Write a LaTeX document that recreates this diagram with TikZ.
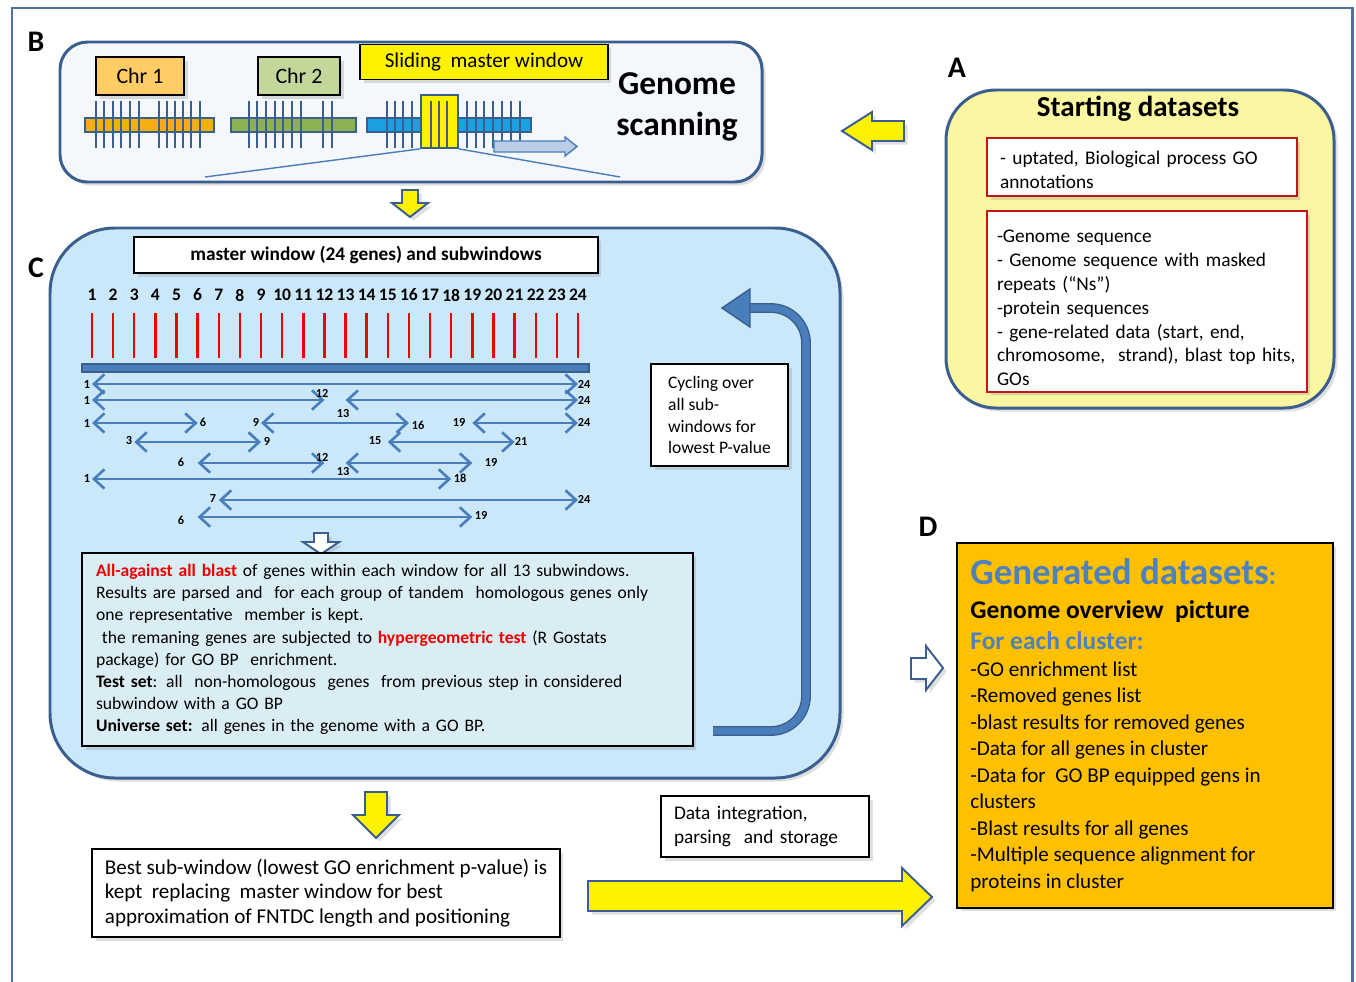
\documentclass[tikz,border=0pt]{standalone}
\usepackage{fontspec}
\setmainfont{Carlito}
\usetikzlibrary{arrows.meta,positioning,shadows}

\definecolor{frameblue}{HTML}{4F70A3}
\definecolor{panelblue}{HTML}{3A5F8F}
\definecolor{bfill}{HTML}{F4F7FB}
\definecolor{afill}{HTML}{FBF6A2}
\definecolor{cfill}{HTML}{CBE8FA}
\definecolor{chrorange}{HTML}{FFCC66}
\definecolor{chrgreen}{HTML}{C4D79B}
\definecolor{barorange}{HTML}{F2B010}
\definecolor{bargreen}{HTML}{8CB150}
\definecolor{barblue}{HTML}{1BA1E2}
\definecolor{genered}{HTML}{F00000}
\definecolor{arrowblue}{HTML}{4A7EBB}
\definecolor{lightarrow}{HTML}{B9CDE5}
\definecolor{textboxfill}{HTML}{DAEDF4}
\definecolor{boxred}{HTML}{C0171D}
\definecolor{dfill}{HTML}{FFC000}
\definecolor{headblue}{HTML}{4F81BD}

\begin{document}
\begin{tikzpicture}[x=0.02cm,y=-0.02cm,
  panel/.style={draw=panelblue,line width=1.7pt},
  softshadow/.style={drop shadow={opacity=0.25,shadow xshift=2pt,shadow yshift=-2pt}},
  whitebox/.style={draw=black,fill=white,line width=0.7pt,softshadow},
  redbox/.style={draw=boxred,fill=white,line width=1pt,softshadow},
  yarrow/.style={fill=yellow,draw=panelblue,line width=1.1pt,softshadow},
  warrow/.style={fill=white,draw=panelblue,line width=1.1pt,softshadow},
  chrtick/.style={draw=panelblue,line width=0.6pt},
  subwin/.style={draw=arrowblue,line width=1.5pt,{Straight Barb[length=6pt,width=11pt]}-{Straight Barb[length=6pt,width=11pt]}},
  numlab/.style={font=\fontsize{7}{8}\selectfont\bfseries,inner sep=0pt},
  genenum/.style={font=\fontsize{10}{12}\selectfont\bfseries,inner sep=0pt},
  panellabel/.style={font=\fontsize{17}{20}\selectfont\bfseries,inner sep=0pt}]
\useasboundingbox (0,0) rectangle (1356,981);
\clip (0,0) rectangle (1356,981);
\draw[draw=frameblue,line width=1.7pt] (12,8) rectangle (1352,1010);

% B: genome scanning
\draw[panel,fill=bfill,rounded corners=0.55cm,softshadow] (60,42) rectangle (762,182);
\node[panellabel] (labB) at (36,42) {B};
\node[whitebox,fill=chrorange,minimum width=1.76cm,minimum height=0.76cm,font=\fontsize{12.5}{14}\selectfont] (chr1) at (140,76) {Chr 1};
\node[whitebox,fill=chrgreen,minimum width=1.64cm,minimum height=0.76cm,font=\fontsize{12.5}{14}\selectfont] (chr2) at (299,76) {Chr 2};
\node[whitebox,fill=yellow,minimum width=4.96cm,minimum height=0.7cm,font=\fontsize{12}{14}\selectfont] (slide) at (484,62) {Sliding\ \ master window};
\node[font=\fontsize{19}{23.2}\selectfont\bfseries,align=center] (scan) at (677,107) {Genome\\scanning};
\draw[fill=barorange,draw=panelblue,line width=1pt] (85,118) rectangle (214,132);
\foreach \x in {96,104,113,121,130,139,159,167,175,183,191,200}
  \draw[chrtick] (\x,101) -- (\x,148);
\draw[fill=bargreen,draw=panelblue,line width=1pt] (231,118) rectangle (356,132);
\foreach \x in {249,257,266,275,283,292,301,323,332}
  \draw[chrtick] (\x,101) -- (\x,148);
\draw[fill=barblue,draw=panelblue,line width=1pt] (367,118) rectangle (531,132);
\node[draw=panelblue,fill=yellow,line width=1pt,minimum width=0.74cm,minimum height=1.06cm,inner sep=0pt] (win) at (439.5,121.5) {};
\foreach \x in {387,395,403,412,431,439,447,467,476,484,493,502,511,520}
  \draw[chrtick] (\x,101) -- (\x,148);
\draw[fill=lightarrow,draw=arrowblue,line width=0.8pt] (494,141) -- (565,141) -- (565,137) -- (577,146.5) -- (565,156) -- (565,152) -- (494,152) -- cycle;
\coordinate (zoomL) at (205,177);
\coordinate (zoomR) at (620,177);
\draw[draw=arrowblue,line width=0.8pt] (win.south west) -- (zoomL) (win.south east) -- (zoomR);

% arrows between panels
\draw[yarrow] (842,131) -- (872,112) -- (872,121) -- (904,121) -- (904,141) -- (872,141) -- (872,150) -- cycle;
\draw[yarrow] (402,190) -- (418,190) -- (418,203) -- (428,203) -- (410,217) -- (392,203) -- (402,203) -- cycle;

% A: starting datasets
\draw[panel,fill=afill,rounded corners=1cm,softshadow] (946,90) rectangle (1334,408);
\node[panellabel] (labA) at (957,68) {A};
\node[font=\fontsize{16.5}{20}\selectfont\bfseries] (start) at (1138,109) {Starting datasets};
\node[redbox,minimum width=6.2cm,minimum height=1.16cm,text width=5.68cm,inner xsep=0.26cm,align=left,font=\fontsize{11}{13.6}\selectfont] (goann) at (1142,167) {\rule{0pt}{11pt}- uptated, Biological process GO\\annotations};
\node[redbox,minimum width=6.4cm,minimum height=3.38cm,text width=6.0cm,inner xsep=0.2cm,align=left,font=\fontsize{11}{13.6}\selectfont] (seqs) at (1147,301.5) {\rule{0pt}{14.5pt}-Genome sequence\\- Genome sequence with masked\\repeats (“Ns”)\\-protein sequences\\- gene-related data (start, end,\\chromosome,\ \ strand), blast top hits,\\GOs};

% C: subwindows
\draw[panel,fill=cfill,rounded corners=1.3cm,softshadow] (50,228) rectangle (840,778);
\node[panellabel] (labC) at (36,268) {C};
\node[whitebox,minimum width=9.28cm,minimum height=0.72cm,font=\fontsize{11}{13}\selectfont\bfseries] (mw) at (366,255) {master window (24 genes) and subwindows};
\foreach \i in {1,...,24} {
  \coordinate (g\i) at ({92+(\i-1)*21.13},368);
  \draw[draw=genered,line width=1.4pt] (g\i |- 0,313) -- (g\i |- 0,358);
  \node[genenum] (n\i) at (g\i |- 0,295) {\i};
}
\draw[fill=arrowblue,draw=panelblue,line width=0.8pt] (82,364) rectangle (589,372);
\foreach \r/\a/\b in {384/1/24,400/1/12,400/13/24,423/1/6,423/9/16,423/19/24,442/3/9,442/15/21,463/6/12,463/13/19,479/1/18,500/7/24,517/6/19}
  \draw[subwin] (g\a |- 0,\r) -- (g\b |- 0,\r);
\foreach \x/\y/\t in {87/384/1,584/384/24,87/400/1,322/393/12,343/414/13,584/400/24,87/423/1,203/422/6,256/422/9,418/425/16,459/422/19,584/422/24,129/441/3,267/441/9,375/441/15,521/441/21,181/462/6,322/457/12,491/462/19,343/472/13,87/478/1,460/478/18,213/499/7,584/499/24,181/520/6,481/515/19}
  \node[numlab] (s\x-\y) at (\x,\y) {\t};
\draw[warrow] (314,533) -- (328,533) -- (328,542) -- (339,542) -- (321,554) -- (303,542) -- (314,542) -- cycle;
\node[whitebox,fill=textboxfill,minimum width=12.22cm,minimum height=3.86cm,text width=11.66cm,inner xsep=0.28cm,align=left,font=\fontsize{10}{12.65}\selectfont] (blast) at (387.5,649.5) {{\color{genered}\bfseries All-against all blast} of genes within each window for all 13 subwindows.\\
Results are parsed and\ \ for each group of tandem\ \ homologous genes only\\
one representative\ \ member is kept.\\
\ the remaning genes are subjected to {\color{genered}\bfseries hypergeometric test} (R Gostats\\
package) for GO BP\ \ enrichment.\\
\textbf{Test set}: all\ \ non-homologous\ \ genes\ \ from previous step in considered\\
subwindow with a GO BP\\
\textbf{Universe set:} all genes in the genome with a GO BP.};
\node[whitebox,minimum width=2.74cm,minimum height=2.04cm,align=left,font=\fontsize{10}{12.5}\selectfont] (cyc) at (719.5,415) {Cycling over\\all sub-\\windows for\\lowest P-value};
\coordinate (loopstart) at (713,731);
\coordinate (looptip) at (722,308);
\draw[draw=panelblue,line width=5.6pt,rounded corners=0.7cm] (loopstart) -- (806,731) -- (806,308) -- (748,308);
\draw[draw=arrowblue,line width=4pt,rounded corners=0.7cm] (loopstart) -- (806,731) -- (806,308) -- (746,308);
\draw[fill=arrowblue,draw=panelblue,line width=0.8pt] (looptip) -- (750,289) -- (750,327) -- cycle;

% best sub-window
\draw[yarrow] (365,792) -- (387,792) -- (387,815) -- (399,815) -- (376,838) -- (353,815) -- (365,815) -- cycle;
\node[whitebox,minimum width=9.36cm,minimum height=1.76cm,align=left,font=\fontsize{12}{13.9}\selectfont] (best) at (326,893) {Best sub-window (lowest GO enrichment p-value) is\\kept\ \ replacing\ \ master window for best\\approximation of FNTDC length and positioning};
\node[whitebox,minimum width=4.16cm,minimum height=1.22cm,text width=3.64cm,inner xsep=0.26cm,align=left,font=\fontsize{11}{13.6}\selectfont] (integ) at (765,826.5) {Data integration,\\parsing\ \ and storage};
\draw[yarrow] (588,881) -- (902,881) -- (902,868) -- (932,897) -- (902,926) -- (902,911) -- (588,911) -- cycle;

% D: generated datasets
\node[panellabel] (labD) at (928,527) {D};
\draw[warrow] (911,658) -- (926,658) -- (926,646) -- (943,668) -- (926,690) -- (926,679) -- (911,679) -- cycle;
\node[draw=black,fill=dfill,line width=0.8pt,minimum width=7.52cm,minimum height=7.3cm,inner sep=0pt,softshadow] (gen) at (1145,725.5) {};
\node[anchor=base west,inner sep=0pt,font=\fontsize{21}{24}\selectfont\bfseries,text=headblue] (gtitle) at (970,584) {Generated datasets{\fontsize{15}{18}\selectfont:}};
\node[anchor=base west,inner sep=0pt,font=\fontsize{14.5}{17}\selectfont\bfseries] (overview) at (970,618) {Genome overview\ \ picture};
\node[anchor=base west,inner sep=0pt,font=\fontsize{14.5}{17}\selectfont\bfseries,text=headblue] (each) at (970,649) {For each cluster:};
\node[anchor=north west,inner sep=0pt,align=left,font=\fontsize{12}{15.1}\selectfont] (outlist) at (970,661) {-GO enrichment list\\-Removed genes list\\-blast results for removed genes\\-Data for all genes in cluster\\-Data for\ \ GO BP equipped gens in\\clusters\\-Blast results for all genes\\-Multiple sequence alignment for\\proteins in cluster};
\end{tikzpicture}
\end{document}
